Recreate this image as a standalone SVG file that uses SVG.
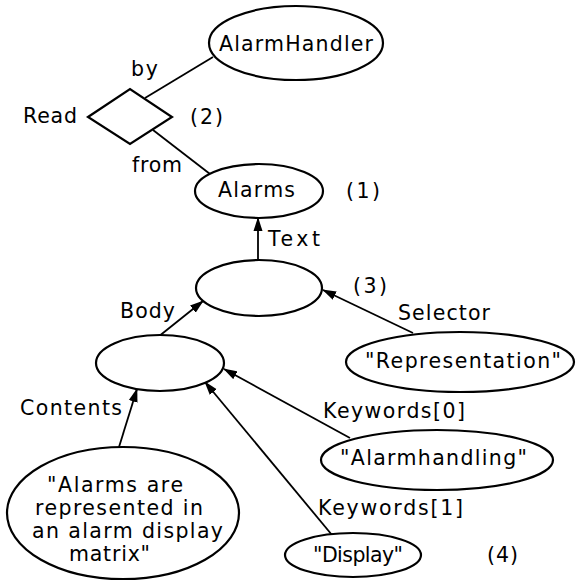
<svg xmlns="http://www.w3.org/2000/svg" width="576" height="582" viewBox="0 0 576 582">
<defs>
<marker id="arr" markerUnits="userSpaceOnUse" markerWidth="14" markerHeight="10" refX="13" refY="5" orient="auto">
<path d="M0,0.5 L14,5 L0,9.5 z" fill="#000"/>
</marker>
<style>
text{font-family:"DejaVu Sans","Liberation Sans",sans-serif;font-size:20.5px;fill:#000}
.n{fill:#fff;stroke:#000;stroke-width:2.2}
.c{stroke:#000;stroke-width:1.8;fill:none}
.a{marker-end:url(#arr)}
</style>
</defs>
<rect width="576" height="582" fill="#fff"/>
<g id="connectors">
<line class="c" x1="145" y1="98" x2="213" y2="57"/>
<line class="c" x1="153" y1="130" x2="210" y2="174"/>
<line class="c a" x1="258" y1="260" x2="258" y2="218"/>
<line class="c a" x1="413" y1="333" x2="323" y2="290"/>
<line class="c a" x1="158" y1="337" x2="203" y2="301"/>
<line class="c a" x1="119" y1="447" x2="137" y2="389"/>
<line class="c a" x1="350" y1="438" x2="224" y2="369"/>
<line class="c a" x1="332" y1="535" x2="205" y2="382"/>
<text x="131" y="76" textLength="27" lengthAdjust="spacing">by</text>
<text x="132" y="172" textLength="50" lengthAdjust="spacing">from</text>
<text x="268" y="246" textLength="52" lengthAdjust="spacing">Text</text>
<text x="398" y="320" textLength="92" lengthAdjust="spacing">Selector</text>
<text x="120" y="318" textLength="55" lengthAdjust="spacing">Body</text>
<text x="20" y="415" textLength="102" lengthAdjust="spacing">Contents</text>
<text x="323" y="418" textLength="142" lengthAdjust="spacing">Keywords[0]</text>
<text x="318" y="515" textLength="145" lengthAdjust="spacing">Keywords[1]</text>
</g>
<g id="alarmhandler">
<ellipse class="n" cx="296" cy="43" rx="87" ry="37"/>
<text x="219" y="51" textLength="154" lengthAdjust="spacing">AlarmHandler</text>
</g>
<g id="read">
<polygon class="n" points="88,117 130,89 172,117 130,144"/>
<text x="23" y="123" textLength="54" lengthAdjust="spacing">Read</text>
<text x="190" y="124" textLength="33" lengthAdjust="spacing">(2)</text>
</g>
<g id="alarms">
<ellipse class="n" cx="259" cy="191" rx="64" ry="27"/>
<text x="218" y="197" textLength="77" lengthAdjust="spacing">Alarms</text>
<text x="346" y="198" textLength="34" lengthAdjust="spacing">(1)</text>
</g>
<g id="textnode">
<ellipse class="n" cx="259" cy="288" rx="63" ry="28"/>
<text x="353" y="293" textLength="34" lengthAdjust="spacing">(3)</text>
</g>
<g id="representation">
<ellipse class="n" cx="460" cy="362" rx="114" ry="30"/>
<text x="365" y="368" textLength="196" lengthAdjust="spacing">"Representation"</text>
</g>
<g id="body">
<ellipse class="n" cx="160" cy="363" rx="64" ry="28"/>
</g>
<g id="alarmhandling">
<ellipse class="n" cx="437" cy="460" rx="116" ry="30"/>
<text x="340" y="465" textLength="187" lengthAdjust="spacing">"Alarmhandling"</text>
</g>
<g id="display">
<ellipse class="n" cx="353" cy="555" rx="68" ry="22"/>
<text x="313" y="562" textLength="90" lengthAdjust="spacing">"Display"</text>
<text x="487" y="562" textLength="31" lengthAdjust="spacing">(4)</text>
</g>
<g id="contents">
<ellipse class="n" cx="123" cy="513" rx="116" ry="66"/>
<text x="47" y="492" textLength="136" lengthAdjust="spacing">"Alarms are</text>
<text x="35" y="515" textLength="168" lengthAdjust="spacing">represented in</text>
<text x="32" y="538" textLength="191" lengthAdjust="spacing">an alarm display</text>
<text x="69" y="561" textLength="81" lengthAdjust="spacing">matrix"</text>
</g>
</svg>
